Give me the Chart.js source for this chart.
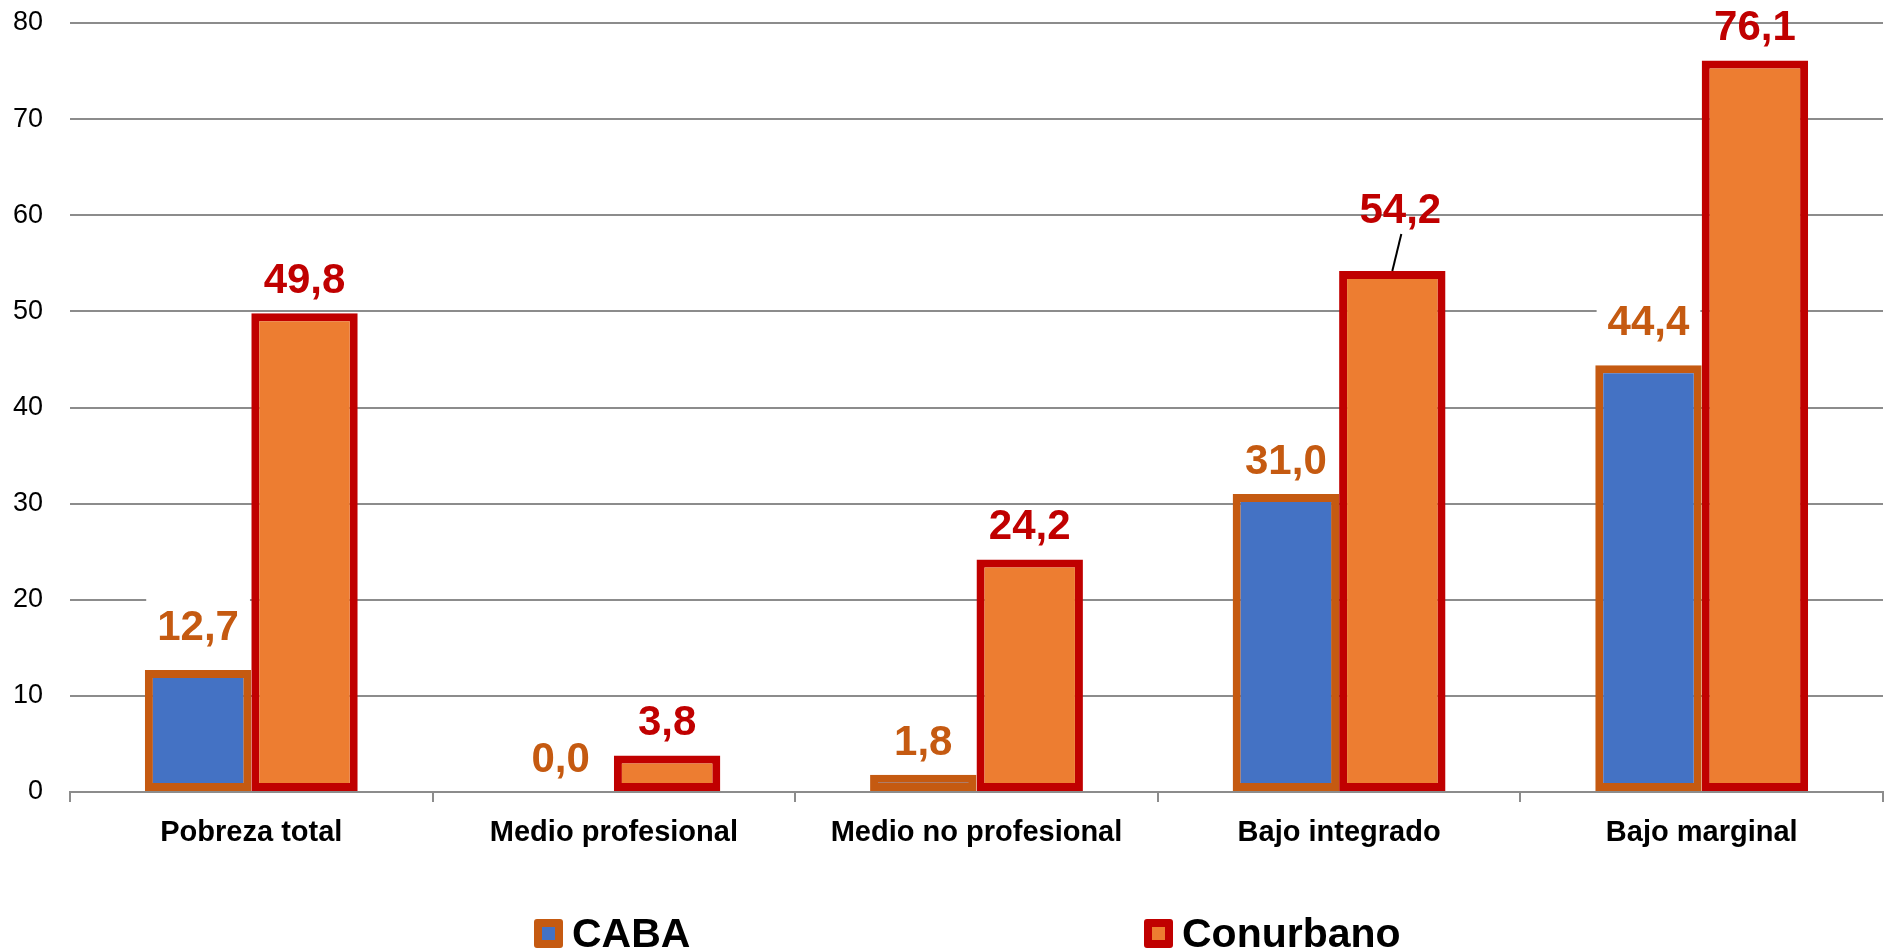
<!DOCTYPE html>
<html>
<head>
<meta charset="utf-8">
<script src="https://cdn.jsdelivr.net/npm/chart.js@4.4.1/dist/chart.umd.min.js"></script>
<style>
  html, body { margin: 0; padding: 0; background: #fff; }
  #wrap { position: relative; width: 1892px; height: 951px; overflow: hidden; }
  canvas { position: absolute; left: 0; top: 0; }
  .leg { position: absolute; top: 913px; height: 40px; display: flex; align-items: center;
         font-family: "Liberation Sans", Arial, sans-serif; font-weight: bold; font-size: 41px; color: #000; }
  .box { width: 13px; height: 13px; border-width: 8px; border-style: solid; border-radius: 3px; margin-right: 9px; }
</style>
</head>
<body>
<div id="wrap">
  <canvas id="c" width="1892" height="951"></canvas>
  <div class="leg" style="left:534px"><span class="box" style="background:#4472C4;border-color:#C55A11"></span><span id="l0"></span></div>
  <div class="leg" style="left:1144px"><span class="box" style="background:#ED7D31;border-color:#C00000"></span><span id="l1"></span></div>
</div>
<script>
const categories = ["Pobreza total", "Medio profesional", "Medio no profesional", "Bajo integrado", "Bajo marginal"];
const seriesNames = ["CABA", "Conurbano"];
const cabaValues = [12.7, 0.0, 1.8, 31.0, 44.4];
const conurbanoValues = [49.8, 3.8, 24.2, 54.2, 76.1];
const yTicks = [0, 10, 20, 30, 40, 50, 60, 70, 80];

document.getElementById('l0').textContent = seriesNames[0];
document.getElementById('l1').textContent = seriesNames[1];

const FONT = '"Liberation Sans", Arial, sans-serif';
const fmt = v => v.toFixed(1).replace('.', ',');

const labelPlugin = {
  id: 'valueLabels',
  afterDatasetsDraw(chart) {
    const ctx = chart.ctx;
    ctx.save();
    ctx.font = 'bold 42px ' + FONT;
    ctx.textAlign = 'center';
    ctx.textBaseline = 'alphabetic';
    chart.data.datasets.forEach((ds, di) => {
      const meta = chart.getDatasetMeta(di);
      meta.data.forEach((bar, i) => {
        const v = ds.data[i];
        const txt = fmt(v);
        let x = bar.x;
        let lift = 20;
        if (di === 0 && (i === 0 || i === 4)) lift = 30;
        let leader = false;
        if (di === 1 && i === 3) { lift = 48; x += 8; leader = true; }
        const yb = bar.y - lift;
        const w = ctx.measureText(txt).width;
        if (di === 0) {
          ctx.fillStyle = '#ffffff';
          ctx.fillRect(x - w / 2 - 11, yb - 41, w + 22, 51);
        }
        if (leader) {
          ctx.strokeStyle = '#000';
          ctx.lineWidth = 2;
          ctx.beginPath();
          ctx.moveTo(x + 1, yb + 11);
          ctx.lineTo(bar.x, bar.y);
          ctx.stroke();
        }
        ctx.fillStyle = di === 0 ? '#C55A11' : '#C00000';
        ctx.fillText(txt, x, yb);
      });
    });
    ctx.restore();
  }
};

new Chart(document.getElementById('c'), {
  type: 'bar',
  data: {
    labels: categories,
    datasets: [
      { label: seriesNames[0], data: cabaValues, backgroundColor: '#4472C4', borderColor: '#C55A11', borderWidth: 8, borderSkipped: false },
      { label: seriesNames[1], data: conurbanoValues, backgroundColor: '#ED7D31', borderColor: '#C00000', borderWidth: 8, borderSkipped: false }
    ]
  },
  options: {
    responsive: false,
    devicePixelRatio: 1,
    animation: false,
    layout: { padding: { top: 23, right: 9, bottom: 89, left: 0 } },
    datasets: { bar: { categoryPercentage: 0.587, barPercentage: 1.0 } },
    plugins: { legend: { display: false }, tooltip: { enabled: false } },
    scales: {
      x: {
        afterFit(s) { s.height = 70; },
        grid: { offset: true, drawOnChartArea: false, drawTicks: true, tickLength: 10, color: '#8c8c8c', lineWidth: 2 },
        border: { display: true, color: '#8c8c8c', width: 2 },
        ticks: { color: '#000', padding: 14, font: { family: FONT, size: 29, weight: 'bold' } }
      },
      y: {
        min: 0, max: 80,
        afterFit(s) { s.width = 70; s.paddingTop = 0; s.paddingBottom = 0; },
        afterBuildTicks(s) { s.ticks = yTicks.map(v => ({ value: v })); },
        grid: { drawTicks: false, color: '#8c8c8c', lineWidth: 2 },
        border: { display: false },
        ticks: { color: '#000', padding: 27, font: { family: FONT, size: 27 } }
      }
    }
  },
  plugins: [labelPlugin]
});
</script>
</body>
</html>
